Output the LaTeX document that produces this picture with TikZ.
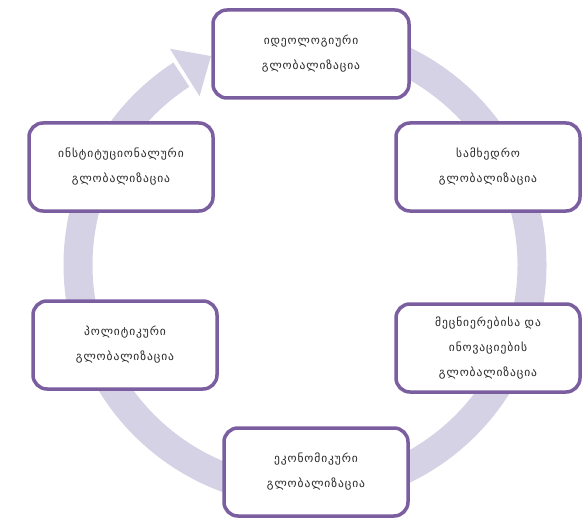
\documentclass[tikz,border=0pt]{standalone}
\usepackage{fontspec}
\setmainfont{DejaVu Sans}[LetterSpace=8]
\usetikzlibrary{calc}
\definecolor{boxline}{HTML}{7B5E9F}
\definecolor{ringcol}{HTML}{D6D2E5}
\tikzset{
  gbox/.style={draw=boxline, line width=3.5pt, fill=white, rounded corners=14pt,
    minimum width=184pt, minimum height=88pt, align=center,
    font=\fontsize{11.5}{25}\selectfont, text=black!85, inner sep=2pt},
  ring/.style={draw=ringcol, line width=29pt}
}
\begin{document}
\begin{tikzpicture}[x=1pt,y=1pt]
\useasboundingbox (0,0) rectangle (583,523);
\coordinate (C) at (305,258);
% ring with arrow head
\draw[ring] ($(C)+(95:227)$) arc[start angle=95, end angle=-237, radius=227];
\fill[ringcol] ($(C)+(122:199)$) -- ($(C)+(122:255)$) -- ($(C)+(122:227)+(32:31)$) -- cycle;
% boxes
\node[gbox, minimum width=196pt] (top) at (311,469) {იდეოლოგიური\\გლობალიზაცია};
\node[gbox] (rt) at (488,356) {სამხედრო\\გლობალიზაცია};
\node[gbox] (rb) at (488,175) {მეცნიერებისა და\\ინოვაციების\\გლობალიზაცია};
\node[gbox] (bot) at (316,51) {ეკონომიკური\\გლობალიზაცია};
\node[gbox] (lb) at (125,178) {პოლიტიკური\\გლობალიზაცია};
\node[gbox] (lt) at (121,356) {ინსტიტუციონალური\\გლობალიზაცია};
\end{tikzpicture}
\end{document}
